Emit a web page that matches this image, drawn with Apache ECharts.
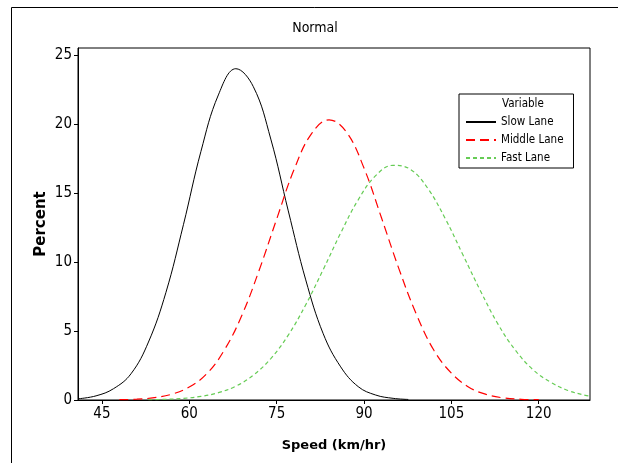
<!DOCTYPE html>
<html>
<head>
<meta charset="utf-8">
<script src="https://cdn.jsdelivr.net/npm/echarts@6/dist/echarts.min.js"></script>
<style>
  html, body { margin: 0; padding: 0; background: #fff; }
  #main { width: 630px; height: 463px; }
</style>
</head>
<body>
<div id="main"></div>
<script>
// speeds (km/hr) and percent values
var slowX = [41, 44, 47, 50, 53, 56, 59, 62, 65, 68, 71, 74, 77, 80, 83, 86, 89, 92, 95, 97.6];
var slowY = [0.09, 0.30, 0.82, 1.9, 4.2, 7.8, 12.7, 18.0, 22.1, 24.0, 22.7, 18.9, 13.7, 8.7, 4.8, 2.4, 0.97, 0.36, 0.12, 0.04];

var middleX = [48, 51, 54, 57, 60, 63, 66, 69, 72, 75, 78, 81, 84, 87, 90, 93, 96, 99, 102, 105, 108, 111, 114, 117, 120];
var middleY = [0.02, 0.06, 0.17, 0.42, 0.94, 1.9, 3.6, 6.1, 9.4, 13.1, 16.7, 19.3, 20.3, 19.4, 16.8, 13.2, 9.5, 6.2, 3.6, 1.95, 0.93, 0.40, 0.15, 0.05, 0.02];

var fastX = [53, 56, 59, 62, 65, 68, 71, 74, 77, 80, 83, 86, 89, 92, 95, 98, 101, 104, 107, 110, 113, 116, 119, 122, 125, 128, 129];
var fastY = [0.02, 0.05, 0.12, 0.26, 0.53, 1.0, 1.8, 3.0, 4.7, 6.9, 9.45, 12.1, 14.5, 16.25, 17.0, 16.7, 15.3, 13.1, 10.5, 7.9, 5.5, 3.6, 2.2, 1.3, 0.69, 0.34, 0.27];

var xTicks = [45, 60, 75, 90, 105, 120];
var yTicks = [0, 5, 10, 15, 20, 25];
var seriesNames = ['Slow Lane', 'Middle Lane', 'Fast Lane'];

function pairs(xs, ys) {
  var out = [];
  for (var i = 0; i < xs.length; i++) out.push([xs[i], ys[i]]);
  return out;
}

var FONT = 'Liberation Sans Narrow, DejaVu Sans Condensed, DejaVu Sans, sans-serif';
var BOLD = 'DejaVu Sans, sans-serif';
var chart = echarts.init(document.getElementById('main'), null, {renderer: 'canvas'});

chart.setOption({
  animation: false,
  backgroundColor: '#fff',
  textStyle: {fontFamily: FONT},
  title: {
    text: 'Normal',
    left: 'center',
    top: 16,
    textStyle: {fontSize: 14, fontWeight: 'normal', color: '#000', fontFamily: FONT}
  },
  grid: {
    left: 78, right: 40, top: 48, bottom: 63,
    show: true, borderColor: '#000', borderWidth: 1
  },
  legend: {
    orient: 'vertical',
    left: 459, top: 94,
    padding: [22, 10, 4, 6],
    borderColor: '#000', borderWidth: 1,
    itemWidth: 30, itemHeight: 10, itemGap: 6,
    itemStyle: {opacity: 0},
    textStyle: {fontSize: 11.5, color: '#000', fontFamily: FONT},
    data: seriesNames
  },
  graphic: [
    {type: 'text', left: 502, top: 98, style: {text: 'Variable', fontSize: 11.5, fill: '#000', fontFamily: FONT}},
    {type: 'polyline', shape: {points: [[11.5, 470], [11.5, 7.5], [618, 7.5]]}, style: {stroke: '#000', lineWidth: 1, fill: null}}
  ],
  xAxis: {
    type: 'value',
    min: 40.9, max: 128.8,
    name: 'Speed (km/hr)',
    nameLocation: 'middle',
    nameGap: 39,
    nameTextStyle: {fontSize: 13, fontWeight: 'bold', color: '#000', fontFamily: BOLD},
    axisLine: {onZero: false, lineStyle: {color: '#000'}},
    axisTick: {show: true, length: 4, customValues: xTicks, lineStyle: {color: '#000'}},
    axisLabel: {customValues: xTicks, fontSize: 15, color: '#000', margin: 7, fontFamily: FONT},
    splitLine: {show: false}
  },
  yAxis: {
    type: 'value',
    min: 0, max: 25.5,
    name: 'Percent',
    nameLocation: 'middle',
    nameGap: 29,
    nameMoveOverlap: false,
    nameTextStyle: {fontSize: 15, fontWeight: 'bold', color: '#000', fontFamily: BOLD},
    axisLine: {show: true, lineStyle: {color: '#000'}},
    axisTick: {show: true, length: 4, customValues: yTicks, lineStyle: {color: '#000'}},
    axisLabel: {customValues: yTicks, fontSize: 15, color: '#000', margin: 6, fontFamily: FONT},
    splitLine: {show: false}
  },
  series: [
    {
      name: seriesNames[0], type: 'line', data: pairs(slowX, slowY),
      smooth: 0.4, symbol: 'none',
      itemStyle: {color: '#000'},
      lineStyle: {color: '#000', width: 1, type: 'solid'}
    },
    {
      name: seriesNames[1], type: 'line', data: pairs(middleX, middleY),
      smooth: 0.4, symbol: 'none',
      itemStyle: {color: '#ff0000'},
      lineStyle: {color: '#ff0000', width: 1.2, type: [9, 5]}
    },
    {
      name: seriesNames[2], type: 'line', data: pairs(fastX, fastY),
      smooth: 0.4, symbol: 'none',
      itemStyle: {color: '#66cc55'},
      lineStyle: {color: '#66cc55', width: 1.2, type: [4, 3]}
    }
  ]
});
</script>
</body>
</html>
